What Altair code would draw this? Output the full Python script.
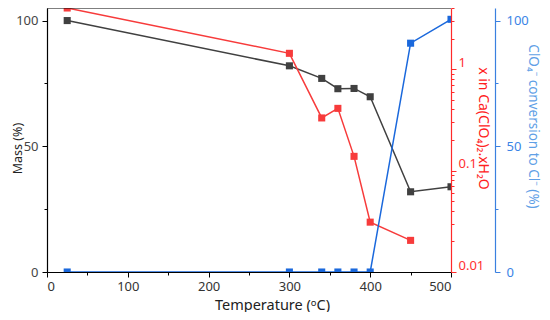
import altair as alt
import pandas as pd

# ---- data ----
temps_mass = [25, 300, 340, 360, 380, 400, 450, 500]
mass_pct = [100, 82, 77, 72.9, 73, 69.7, 31.9, 33.9]

temps_hyd = [25, 300, 340, 360, 380, 400, 450]
x_hydrate = [4.0, 1.43, 0.33, 0.41, 0.138, 0.031, 0.0205]

temps_conv = [25, 300, 340, 360, 380, 400, 450, 500]
conversion = [0, 0, 0, 0, 0, 0, 91, 100.5]

x_ticks = [0, 50, 100, 150, 200, 250, 300, 350, 400, 450, 500]
lin_ticks = [0, 25, 50, 75, 100]
log_ticks = [0.01, 0.02, 0.03, 0.04, 0.05, 0.06, 0.07, 0.08, 0.09,
             0.1, 0.2, 0.3, 0.4, 0.5, 0.6, 0.7, 0.8, 0.9,
             1, 2, 3, 4]

df_mass = pd.DataFrame({"T": temps_mass, "v": mass_pct})
df_hyd = pd.DataFrame({"T": temps_hyd, "v": x_hydrate})
df_conv = pd.DataFrame({"T": temps_conv, "v": conversion})

W, H = 404, 264
FONT = "Noto Sans"
BLACK = "#404040"
RED = "#f73b3b"
BLUE = "#1a68dc"

xscale = alt.Scale(domain=[0, 500], nice=False, zero=False)
xaxis = alt.Axis(
    values=x_ticks,
    labelExpr="datum.value % 100 == 0 ? datum.label : ''",
    tickSize={"condition": {"test": "datum.value % 100 == 0", "value": 5}, "value": 3},
    title="Temperature (ᵒC)",
    titleX=225, titleY=33, titleBaseline="middle", titleAlign="center",
    titleFontSize=14.5, titleFontWeight="normal", titleColor="#222222", titleFont=FONT,
    labelFontSize=13, labelColor="#333333", labelFont=FONT, labelPadding=3,
    domainColor="black", tickColor="black", domainWidth=1.2, tickWidth=1,
    grid=False, zindex=1,
)


def sq(color):
    return alt.OverlayMarkDef(shape="square", size=50, filled=True, color=color,
                              opacity=1, clip=True)


mass_layer = alt.Chart(df_mass).mark_line(
    color=BLACK, strokeWidth=1.5, clip=True, point=sq(BLACK)
).encode(
    x=alt.X("T:Q", scale=xscale, axis=xaxis),
    y=alt.Y("v:Q", scale=alt.Scale(domain=[0, 105], nice=False),
            axis=alt.Axis(
                orient="left", values=lin_ticks,
                labelExpr="datum.value % 50 == 0 ? datum.label : ''",
                tickSize={"condition": {"test": "datum.value % 50 == 0", "value": 5}, "value": 3},
                title="Mass (%)", titleX=-30, titleY=H / 2 + 8, titleAngle=-90,
                titleBaseline="middle", titleAlign="center",
                titleFontSize=12.5, titleFontWeight="normal", titleColor="#222222", titleFont=FONT,
                labelFontSize=13, labelColor="#444444", labelFont=FONT, labelPadding=4,
                domainColor="black", tickColor="black", domainWidth=1.2, tickWidth=1,
                grid=False, zindex=1,
            )),
)

hyd_layer = alt.Chart(df_hyd).mark_line(
    color=RED, strokeWidth=1.5, clip=True, point=sq(RED)
).encode(
    x=alt.X("T:Q", scale=xscale),
    y=alt.Y("v:Q", scale=alt.Scale(type="log", domain=[0.01, 4], nice=False),
            axis=alt.Axis(
                orient="right", values=log_ticks,
                labelExpr="datum.value == 0.01 ? '0.01' : datum.value == 0.1 ? '0.1' : datum.value == 1 ? '1' : ''",
                tickSize={"condition": {"test": "datum.value == 0.01 || datum.value == 0.1 || datum.value == 1",
                                        "value": 5}, "value": 3},
                labelBaseline="bottom",
                title="x in Ca(ClO₄)₂.xH₂O", titleX=31, titleY=120, titleAngle=90,
                titleBaseline="middle", titleAlign="center",
                titleFontSize=14, titleFontWeight="normal", titleColor="#ff2020", titleFont=FONT,
                labelFontSize=13, labelColor="#ff3030", labelFont=FONT, labelPadding=2,
                domainColor="#ff2a2a", tickColor="#ff2a2a", domainWidth=1.2, tickWidth=1,
                grid=False, zindex=1,
            )),
)

conv_layer = alt.Chart(df_conv).mark_line(
    color=BLUE, strokeWidth=1.5, clip=True, point=sq(BLUE)
).encode(
    x=alt.X("T:Q", scale=xscale),
    y=alt.Y("v:Q", scale=alt.Scale(domain=[0, 105], nice=False),
            axis=alt.Axis(
                orient="right", offset=44, values=lin_ticks,
                labelExpr="datum.value % 50 == 0 ? datum.label : ''",
                tickSize={"condition": {"test": "datum.value % 50 == 0", "value": 5}, "value": 3},
                title="ClO₄⁻ conversion to Cl⁻ (%)", titleX=37, titleY=118, titleAngle=90,
                titleBaseline="middle", titleAlign="center",
                titleFontSize=13.5, titleFontWeight="normal", titleColor="#5f9fe6", titleFont=FONT,
                labelFontSize=13, labelColor="#3a84e6", labelFont=FONT, labelPadding=6,
                domainColor="#3a80e0", tickColor="#3a80e0", domainWidth=1.2, tickWidth=1,
                grid=False, zindex=1,
            )),
)

top_border = alt.Chart(pd.DataFrame({"a": [0]})).mark_rule(
    color="black", strokeWidth=1.2
).encode(x=alt.value(0), x2=alt.value(W), y=alt.value(0))

chart = alt.layer(mass_layer, hyd_layer, conv_layer, top_border).resolve_scale(
    y="independent"
).properties(
    width=W, height=H,
    padding={"left": 39, "top": 0, "right": 91, "bottom": 40},
    autosize=alt.AutoSizeParams(type="none"),
).configure_view(stroke=None)

chart.save("out.html", embed_options={"renderer": "svg", "actions": False})
